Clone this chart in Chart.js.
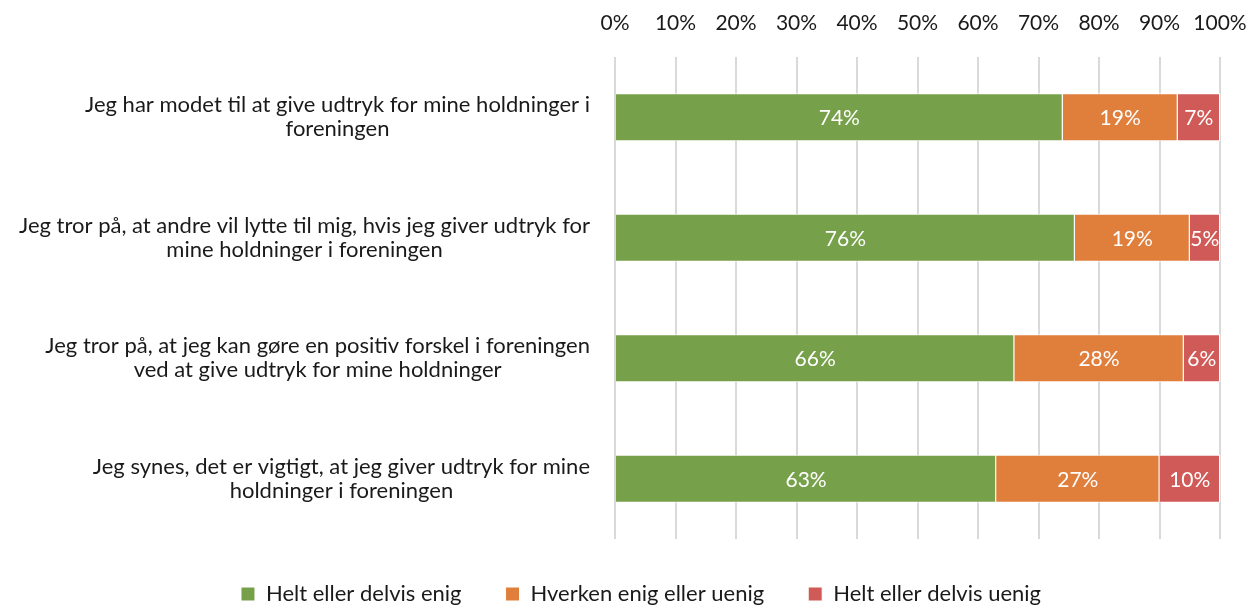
<!DOCTYPE html>
<html>
<head>
<meta charset="utf-8">
<script src="https://cdn.jsdelivr.net/npm/chart.js@4/dist/chart.umd.min.js"></script>
<style>
  html, body { margin: 0; padding: 0; background: #fff; }
  #wrap { width: 1250px; height: 606px; position: relative; }
</style>
</head>
<body>
<div id="wrap"><canvas id="c" width="1250" height="606"></canvas></div>
<script>
const categories = [
  ["Jeg har modet til at give udtryk for mine holdninger i", "foreningen"],
  ["Jeg tror på, at andre vil lytte til mig, hvis jeg giver udtryk for", "mine holdninger i foreningen"],
  ["Jeg tror på, at jeg kan gøre en positiv forskel i foreningen", "ved at give udtryk for mine holdninger"],
  ["Jeg synes, det er vigtigt, at jeg giver udtryk for mine", "holdninger i foreningen"]
];
const seriesNames = ["Helt eller delvis enig", "Hverken enig eller uenig", "Helt eller delvis uenig"];
const enig = [74, 76, 66, 63];
const hverken = [19, 19, 28, 27];
const uenig = [7, 5, 6, 10];
const xTicks = [0, 10, 20, 30, 40, 50, 60, 70, 80, 90, 100];

const FONT = "Lato, 'Open Sans', sans-serif";
const TEXT = "#1a1a1a";

const yLabelPlugin = {
  id: 'yLabels',
  afterDraw(chart) {
    const scale = chart.scales.y;
    const ctx = chart.ctx;
    ctx.save();
    ctx.font = "22px " + FONT;
    ctx.fillStyle = TEXT;
    ctx.textAlign = 'center';
    ctx.textBaseline = 'middle';
    const right = chart.chartArea.left - 25;
    const lineH = 24;
    chart.data.labels.forEach((lines, i) => {
      const y = scale.getPixelForTick(i);
      let widest = 0;
      lines.forEach(l => { widest = Math.max(widest, ctx.measureText(l).width); });
      const cx = right - widest / 2;
      const top = y - (lines.length - 1) * lineH / 2;
      lines.forEach((l, j) => ctx.fillText(l, cx, top + j * lineH));
    });
    ctx.restore();
  }
};

const valueLabelPlugin = {
  id: 'valueLabels',
  afterDatasetsDraw(chart) {
    const ctx = chart.ctx;
    ctx.save();
    ctx.font = "21px " + FONT;
    ctx.fillStyle = "#ffffff";
    ctx.textAlign = 'center';
    ctx.textBaseline = 'middle';
    chart.data.datasets.forEach((ds, di) => {
      const meta = chart.getDatasetMeta(di);
      meta.data.forEach((bar, i) => {
        const v = ds.data[i];
        const cx = (bar.x + bar.base) / 2;
        ctx.fillText(v + '%', cx, bar.y + 1);
      });
    });
    ctx.restore();
  }
};

new Chart(document.getElementById('c'), {
  type: 'bar',
  data: {
    labels: categories,
    datasets: [
      { label: seriesNames[0], data: enig, backgroundColor: '#77a04a' },
      { label: seriesNames[1], data: hverken, backgroundColor: '#e07e3c' },
      { label: seriesNames[2], data: uenig, backgroundColor: '#d05a57' }
    ].map(d => Object.assign(d, { borderColor: '#ffffff', borderWidth: 1, barPercentage: 0.4, categoryPercentage: 1.0 }))
  },
  options: {
    indexAxis: 'y',
    responsive: false,
    animation: false,
    devicePixelRatio: 1,
    layout: { padding: { top: 0, right: 0, bottom: -9, left: 32 } },
    scales: {
      x: {
        position: 'top',
        stacked: true,
        min: 0, max: 100,
        afterBuildTicks(scale) { scale.ticks = xTicks.map(v => ({ value: v })); },
        afterFit(scale) { scale.height = 57; scale.paddingRight = 30; scale.paddingLeft = 0; },
        ticks: {
          callback: v => v + '%',
          font: { family: FONT, size: 21 },
          color: TEXT,
          padding: 21
        },
        grid: { color: '#d9d9d9', lineWidth: 2, drawTicks: false },
        border: { display: false }
      },
      y: {
        stacked: true,
        afterFit(scale) { scale.width = 583; scale.paddingTop = 0; scale.paddingBottom = 0; },
        ticks: { display: false },
        grid: { display: false },
        border: { display: false }
      }
    },
    plugins: {
      legend: {
        position: 'bottom',
        labels: {
          font: { family: FONT, size: 22, lineHeight: 1.0 },
          color: TEXT,
          boxWidth: 14, boxHeight: 14,
          padding: 44
        }
      },
      tooltip: { enabled: false }
    }
  },
  plugins: [yLabelPlugin, valueLabelPlugin]
});
</script>
</body>
</html>
